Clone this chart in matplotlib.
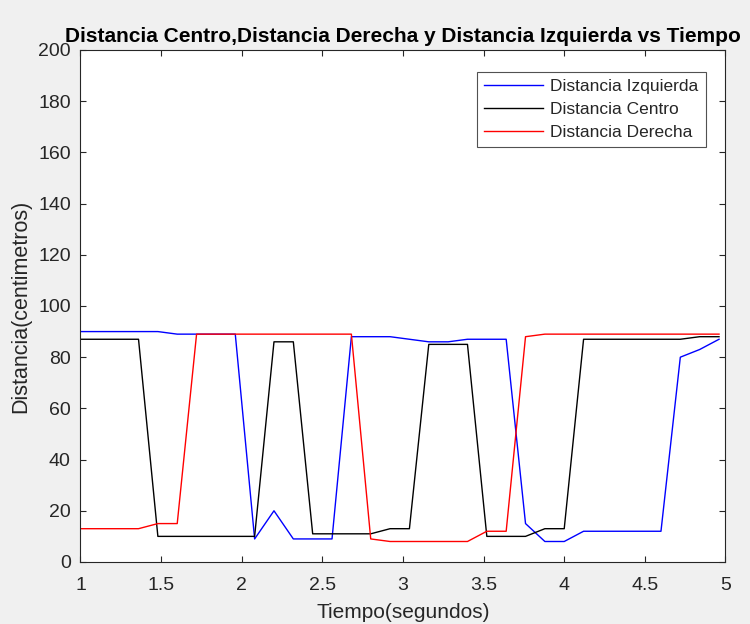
import matplotlib
matplotlib.use("Agg")
import matplotlib.pyplot as plt

plt.rcParams['font.family'] = ['Liberation Sans', 'DejaVu Sans']

tiempo = [1.00, 1.12, 1.24, 1.36, 1.48, 1.60, 1.72, 1.84, 1.96, 2.08,
          2.20, 2.32, 2.44, 2.56, 2.68, 2.80, 2.92, 3.04, 3.16, 3.28,
          3.40, 3.52, 3.64, 3.76, 3.88, 4.00, 4.12, 4.24, 4.36, 4.48,
          4.60, 4.72, 4.84, 4.96]

izquierda = [90, 90, 90, 90, 90, 89, 89, 89, 89, 9,
             20, 9, 9, 9, 88, 88, 88, 87, 86, 86,
             87, 87, 87, 15, 8, 8, 12, 12, 12, 12,
             12, 80, 83, 87]

centro = [87, 87, 87, 87, 10, 10, 10, 10, 10, 10,
          86, 86, 11, 11, 11, 11, 13, 13, 85, 85,
          85, 10, 10, 10, 13, 13, 87, 87, 87, 87,
          87, 87, 88, 88]

derecha = [13, 13, 13, 13, 15, 15, 89, 89, 89, 89,
           89, 89, 89, 89, 89, 9, 8, 8, 8, 8,
           8, 12, 12, 88, 89, 89, 89, 89, 89, 89,
           89, 89, 89, 89]

x_ticks = [1, 1.5, 2, 2.5, 3, 3.5, 4, 4.5, 5]
x_ticklabels = ["1", "1.5", "2", "2.5", "3", "3.5", "4", "4.5", "5"]
y_ticks = [0, 20, 40, 60, 80, 100, 120, 140, 160, 180, 200]

fig = plt.figure(figsize=(7.5, 6.24), dpi=100, facecolor='#f0f0f0')
ax = fig.add_axes([0.1073, 0.0994, 0.86, 0.8205])
ax.set_facecolor('white')

ax.plot(tiempo, izquierda, color='#0000ff', lw=1.0, label='Distancia Izquierda')
ax.plot(tiempo, centro, color='black', lw=1.0, label='Distancia Centro')
ax.plot(tiempo, derecha, color='#ff0000', lw=1.0, label='Distancia Derecha')

ax.set_xlim(1, 5)
ax.set_ylim(0, 200)
ax.set_xticks(x_ticks)
ax.set_xticklabels(x_ticklabels)
ax.set_yticks(y_ticks)
ax.tick_params(direction='in', length=4.5, width=0.8, top=True, right=True,
               labelsize=14, colors='#262626')
ax.tick_params(axis='x', pad=11)
ax.tick_params(axis='y', pad=7)
for s in ax.spines.values():
    s.set_color('#262626')
    s.set_linewidth(0.8)

ax.set_title('Distancia Centro,Distancia Derecha y Distancia Izquierda vs Tiempo',
             fontsize=15, fontweight='bold', pad=6)
ax.set_xlabel('Tiempo(segundos)', fontsize=15, color='#262626', labelpad=6)
ax.set_ylabel('Distancia(centimetros)', fontsize=15.5, color='#262626', labelpad=5)

leg = ax.legend(loc='upper right', bbox_to_anchor=(0.9693, 0.9564), fontsize=12.5,
                frameon=True, fancybox=False, handlelength=3.4, borderpad=0.4,
                labelspacing=0.45, handletextpad=0.42, borderaxespad=0)
leg.get_frame().set_edgecolor('#262626')
leg.get_frame().set_linewidth(0.8)
for t in leg.get_texts():
    t.set_color('#262626')

fig.savefig('out.png', dpi=100, facecolor=fig.get_facecolor())
